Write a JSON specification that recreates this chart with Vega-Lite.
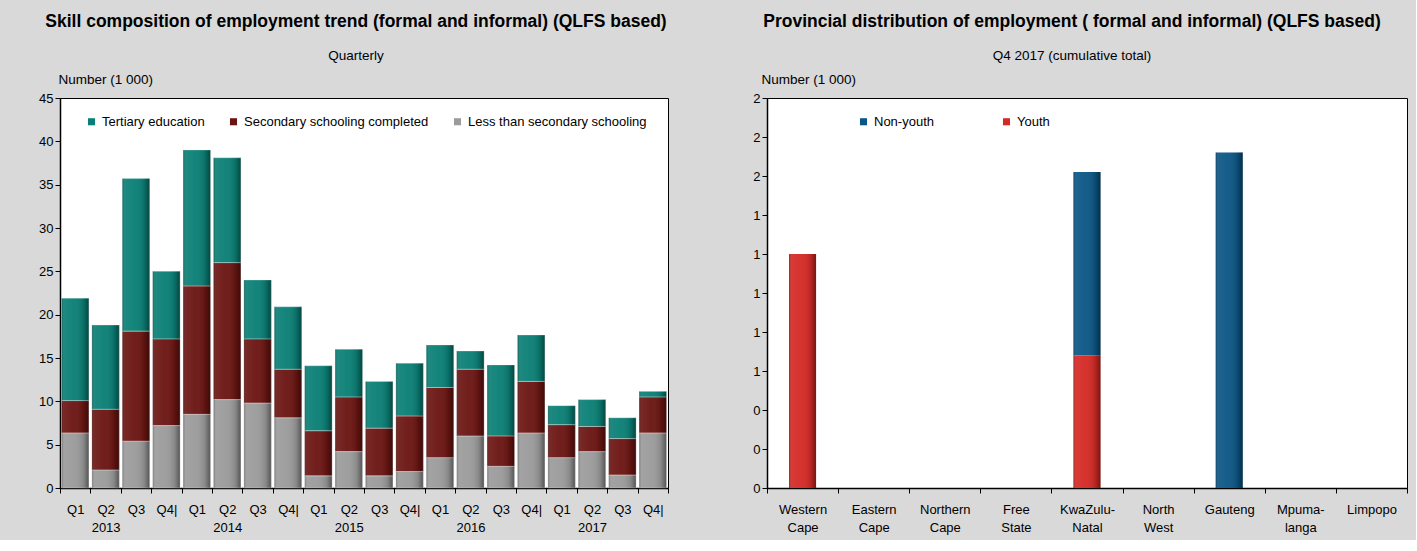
{
  "$schema": "https://vega.github.io/schema/vega-lite/v6.json",
  "background": "#d9d9d9",
  "padding": {"left": 38, "top": 12, "right": 8, "bottom": 5},
  "spacing": 83,
  "resolve": {"scale": {"color": "independent"}, "legend": {"color": "independent"}},
  "datasets": {
    "skills": [
      {"period": "2013 Q1", "skill": "Less than secondary schooling", "value": 6.35},
      {"period": "2013 Q1", "skill": "Secondary schooling completed", "value": 3.73},
      {"period": "2013 Q1", "skill": "Tertiary education", "value": 11.82},
      {"period": "2013 Q2", "skill": "Less than secondary schooling", "value": 2.08},
      {"period": "2013 Q2", "skill": "Secondary schooling completed", "value": 7.0},
      {"period": "2013 Q2", "skill": "Tertiary education", "value": 9.72},
      {"period": "2013 Q3", "skill": "Less than secondary schooling", "value": 5.4},
      {"period": "2013 Q3", "skill": "Secondary schooling completed", "value": 12.7},
      {"period": "2013 Q3", "skill": "Tertiary education", "value": 17.6},
      {"period": "2013 Q4", "skill": "Less than secondary schooling", "value": 7.2},
      {"period": "2013 Q4", "skill": "Secondary schooling completed", "value": 10.0},
      {"period": "2013 Q4", "skill": "Tertiary education", "value": 7.8},
      {"period": "2014 Q1", "skill": "Less than secondary schooling", "value": 8.5},
      {"period": "2014 Q1", "skill": "Secondary schooling completed", "value": 14.8},
      {"period": "2014 Q1", "skill": "Tertiary education", "value": 15.7},
      {"period": "2014 Q2", "skill": "Less than secondary schooling", "value": 10.2},
      {"period": "2014 Q2", "skill": "Secondary schooling completed", "value": 15.8},
      {"period": "2014 Q2", "skill": "Tertiary education", "value": 12.1},
      {"period": "2014 Q3", "skill": "Less than secondary schooling", "value": 9.8},
      {"period": "2014 Q3", "skill": "Secondary schooling completed", "value": 7.4},
      {"period": "2014 Q3", "skill": "Tertiary education", "value": 6.8},
      {"period": "2014 Q4", "skill": "Less than secondary schooling", "value": 8.1},
      {"period": "2014 Q4", "skill": "Secondary schooling completed", "value": 5.6},
      {"period": "2014 Q4", "skill": "Tertiary education", "value": 7.2},
      {"period": "2015 Q1", "skill": "Less than secondary schooling", "value": 1.4},
      {"period": "2015 Q1", "skill": "Secondary schooling completed", "value": 5.2},
      {"period": "2015 Q1", "skill": "Tertiary education", "value": 7.5},
      {"period": "2015 Q2", "skill": "Less than secondary schooling", "value": 4.2},
      {"period": "2015 Q2", "skill": "Secondary schooling completed", "value": 6.3},
      {"period": "2015 Q2", "skill": "Tertiary education", "value": 5.5},
      {"period": "2015 Q3", "skill": "Less than secondary schooling", "value": 1.4},
      {"period": "2015 Q3", "skill": "Secondary schooling completed", "value": 5.5},
      {"period": "2015 Q3", "skill": "Tertiary education", "value": 5.4},
      {"period": "2015 Q4", "skill": "Less than secondary schooling", "value": 1.9},
      {"period": "2015 Q4", "skill": "Secondary schooling completed", "value": 6.4},
      {"period": "2015 Q4", "skill": "Tertiary education", "value": 6.1},
      {"period": "2016 Q1", "skill": "Less than secondary schooling", "value": 3.5},
      {"period": "2016 Q1", "skill": "Secondary schooling completed", "value": 8.1},
      {"period": "2016 Q1", "skill": "Tertiary education", "value": 4.9},
      {"period": "2016 Q2", "skill": "Less than secondary schooling", "value": 6.0},
      {"period": "2016 Q2", "skill": "Secondary schooling completed", "value": 7.7},
      {"period": "2016 Q2", "skill": "Tertiary education", "value": 2.1},
      {"period": "2016 Q3", "skill": "Less than secondary schooling", "value": 2.5},
      {"period": "2016 Q3", "skill": "Secondary schooling completed", "value": 3.5},
      {"period": "2016 Q3", "skill": "Tertiary education", "value": 8.2},
      {"period": "2016 Q4", "skill": "Less than secondary schooling", "value": 6.35},
      {"period": "2016 Q4", "skill": "Secondary schooling completed", "value": 5.95},
      {"period": "2016 Q4", "skill": "Tertiary education", "value": 5.35},
      {"period": "2017 Q1", "skill": "Less than secondary schooling", "value": 3.5},
      {"period": "2017 Q1", "skill": "Secondary schooling completed", "value": 3.8},
      {"period": "2017 Q1", "skill": "Tertiary education", "value": 2.2},
      {"period": "2017 Q2", "skill": "Less than secondary schooling", "value": 4.2},
      {"period": "2017 Q2", "skill": "Secondary schooling completed", "value": 2.9},
      {"period": "2017 Q2", "skill": "Tertiary education", "value": 3.1},
      {"period": "2017 Q3", "skill": "Less than secondary schooling", "value": 1.5},
      {"period": "2017 Q3", "skill": "Secondary schooling completed", "value": 4.2},
      {"period": "2017 Q3", "skill": "Tertiary education", "value": 2.4},
      {"period": "2017 Q4", "skill": "Less than secondary schooling", "value": 6.35},
      {"period": "2017 Q4", "skill": "Secondary schooling completed", "value": 4.15},
      {"period": "2017 Q4", "skill": "Tertiary education", "value": 0.65}
    ],
    "provinces": [
      {"province": "Western Cape", "group": "Non-youth", "value": 0},
      {"province": "Western Cape", "group": "Youth", "value": 1.2},
      {"province": "Eastern Cape", "group": "Non-youth", "value": 0},
      {"province": "Eastern Cape", "group": "Youth", "value": 0},
      {"province": "Northern Cape", "group": "Non-youth", "value": 0},
      {"province": "Northern Cape", "group": "Youth", "value": 0},
      {"province": "Free State", "group": "Non-youth", "value": 0},
      {"province": "Free State", "group": "Youth", "value": 0},
      {"province": "KwaZulu-Natal", "group": "Non-youth", "value": 0.94},
      {"province": "KwaZulu-Natal", "group": "Youth", "value": 0.68},
      {"province": "North West", "group": "Non-youth", "value": 0},
      {"province": "North West", "group": "Youth", "value": 0},
      {"province": "Gauteng", "group": "Non-youth", "value": 1.72},
      {"province": "Gauteng", "group": "Youth", "value": 0},
      {"province": "Mpumalanga", "group": "Non-youth", "value": 0},
      {"province": "Mpumalanga", "group": "Youth", "value": 0},
      {"province": "Limpopo", "group": "Non-youth", "value": 0},
      {"province": "Limpopo", "group": "Youth", "value": 0}
    ]
  },
  "config": {
    "font": "Liberation Sans, Arial, sans-serif",
    "view": {"fill": "white", "stroke": "black", "strokeWidth": 1},
    "axis": {
      "labelFont": "Liberation Sans, Arial, sans-serif",
      "labelFontSize": 13,
      "labelColor": "black",
      "domainColor": "black",
      "domainWidth": 1.5,
      "tickColor": "black",
      "tickSize": 5,
      "grid": false,
      "titleFont": "Liberation Sans, Arial, sans-serif",
      "titleColor": "black",
      "titleFontWeight": "normal",
      "titleFontSize": 13.5
    },
    "legend": {
      "labelFont": "Liberation Sans, Arial, sans-serif",
      "labelFontSize": 13,
      "labelColor": "black",
      "labelLimit": 0,
      "symbolType": "square",
      "symbolSize": 50,
      "symbolStrokeWidth": 0
    },
    "title": {
      "font": "Liberation Sans, Arial, sans-serif",
      "subtitleFont": "Liberation Sans, Arial, sans-serif",
      "color": "black",
      "subtitleColor": "black",
      "fontSize": 17.5,
      "fontWeight": "bold",
      "subtitleFontSize": 13.5,
      "subtitlePadding": 18,
      "anchor": "middle"
    }
  },
  "hconcat": [
    {
      "width": 608,
      "height": 390,
      "title": {
        "text": "Skill composition of employment trend (formal and informal) (QLFS based)",
        "subtitle": "Quarterly",
        "offset": 10,
        "dx": -8
      },
      "data": {"name": "skills"},
      "encoding": {
        "x": {
          "field": "period",
          "type": "nominal",
          "sort": null,
          "scale": {"paddingInner": 0, "paddingOuter": 0},
          "axis": {
            "title": null,
            "labelAngle": 0,
            "tickBand": "extent",
            "labelPadding": 10,
            "labelLineHeight": 18,
            "labelExpr": "substring(datum.label, 5) == 'Q2' ? ['Q2', substring(datum.label, 0, 4)] : (substring(datum.label, 5) == 'Q4' ? 'Q4|' : substring(datum.label, 5))"
          }
        },
        "y": {
          "field": "value",
          "type": "quantitative",
          "stack": "zero",
          "scale": {"domain": [0, 45]},
          "axis": {
            "values": [0, 5, 10, 15, 20, 25, 30, 35, 40, 45],
            "title": "Number (1 000)",
            "titleAngle": 0,
            "titleAlign": "left",
            "titleBaseline": "middle",
            "titleX": -2,
            "titleY": -19
          }
        },
        "order": {"field": "skill", "sort": "ascending"}
      },
      "layer": [
        {
          "mark": {"type": "bar", "width": {"band": 0.9}},
          "encoding": {
            "color": {
              "field": "skill",
              "type": "nominal",
              "scale": {
                "domain": ["Tertiary education", "Secondary schooling completed", "Less than secondary schooling"],
                "range": ["#0a7f75", "#6b1512", "#9b9b9b"]
              },
              "legend": {
                "title": null,
                "orient": "none",
                "direction": "horizontal",
                "legendX": 25,
                "legendY": 17,
                "columnPadding": 22
              }
            }
          }
        },
        {
          "mark": {
            "type": "bar",
            "width": {"band": 0.9},
            "stroke": "rgba(255,255,255,0.35)",
            "strokeWidth": 0.7,
            "fill": {
              "gradient": "linear",
              "x1": 0, "y1": 0, "x2": 1, "y2": 0,
              "stops": [
                {"offset": 0, "color": "rgba(0,0,0,0.3)"},
                {"offset": 0.1, "color": "rgba(255,255,255,0.08)"},
                {"offset": 0.45, "color": "rgba(255,255,255,0.04)"},
                {"offset": 0.8, "color": "rgba(0,0,0,0.12)"},
                {"offset": 1, "color": "rgba(0,0,0,0.45)"}
              ]
            }
          },
          "encoding": {
            "detail": {"field": "skill", "type": "nominal"}
          }
        }
      ]
    },
    {
      "width": 640,
      "height": 390,
      "title": {
        "text": "Provincial distribution of employment ( formal and informal) (QLFS based)",
        "subtitle": "Q4 2017 (cumulative total)",
        "offset": 10,
        "dx": -15
      },
      "data": {"name": "provinces"},
      "encoding": {
        "x": {
          "field": "province",
          "type": "nominal",
          "sort": null,
          "scale": {"paddingInner": 0, "paddingOuter": 0},
          "axis": {
            "title": null,
            "labelAngle": 0,
            "tickBand": "extent",
            "labelPadding": 10,
            "labelLineHeight": 18,
            "labelExpr": "datum.label == 'KwaZulu-Natal' ? ['KwaZulu-', 'Natal'] : (datum.label == 'Mpumalanga' ? ['Mpuma-', 'langa'] : split(datum.label, ' '))"
          }
        },
        "y": {
          "field": "value",
          "type": "quantitative",
          "stack": "zero",
          "scale": {"domain": [0, 2]},
          "axis": {
            "values": [0, 0.2, 0.4, 0.6, 0.8, 1.0, 1.2, 1.4, 1.6, 1.8, 2.0],
            "format": ".0f",
            "title": "Number (1 000)",
            "titleAngle": 0,
            "titleAlign": "left",
            "titleBaseline": "middle",
            "titleX": -6,
            "titleY": -19
          }
        },
        "order": {"field": "group", "sort": "descending"}
      },
      "layer": [
        {
          "mark": {"type": "bar", "width": {"band": 0.38}},
          "encoding": {
            "color": {
              "field": "group",
              "type": "nominal",
              "scale": {
                "domain": ["Non-youth", "Youth"],
                "range": ["#0b5685", "#d42a25"]
              },
              "legend": {
                "title": null,
                "orient": "none",
                "direction": "horizontal",
                "legendX": 90,
                "legendY": 17,
                "columnPadding": 66
              }
            }
          }
        },
        {
          "mark": {
            "type": "bar",
            "width": {"band": 0.38},
            "fill": {
              "gradient": "linear",
              "x1": 0, "y1": 0, "x2": 1, "y2": 0,
              "stops": [
                {"offset": 0, "color": "rgba(0,0,0,0.3)"},
                {"offset": 0.1, "color": "rgba(255,255,255,0.08)"},
                {"offset": 0.45, "color": "rgba(255,255,255,0.04)"},
                {"offset": 0.8, "color": "rgba(0,0,0,0.12)"},
                {"offset": 1, "color": "rgba(0,0,0,0.45)"}
              ]
            }
          },
          "encoding": {
            "detail": {"field": "group", "type": "nominal"}
          }
        }
      ]
    }
  ]
}
